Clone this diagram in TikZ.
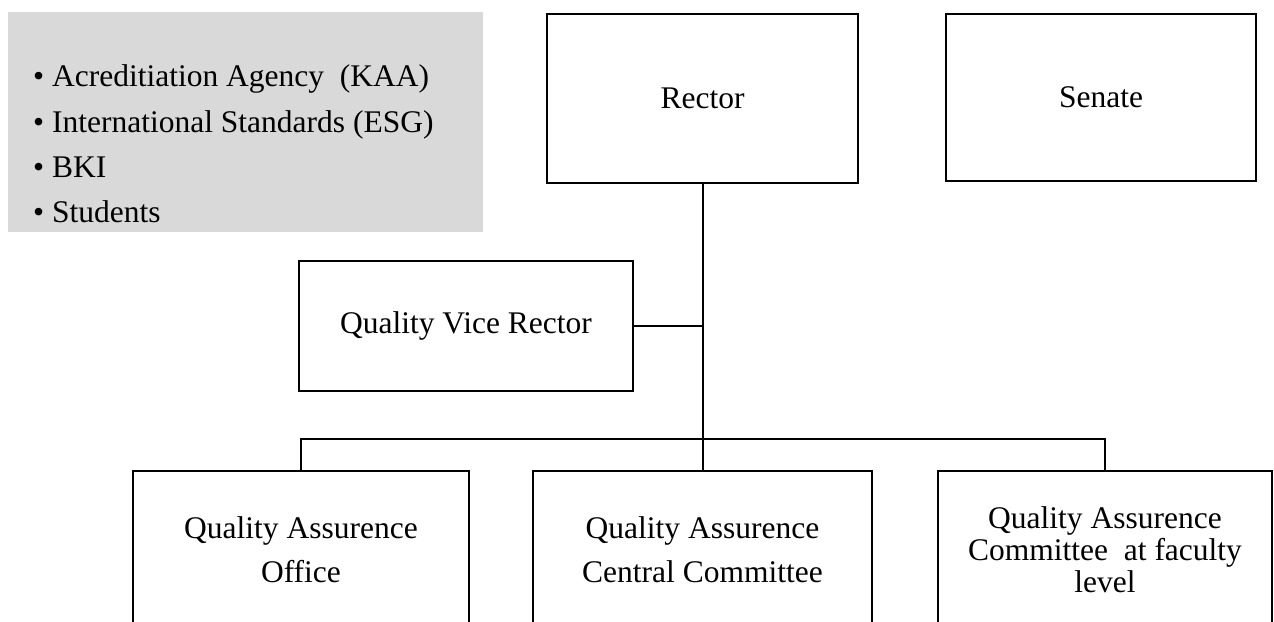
\documentclass[tikz,border=0pt]{standalone}
\usepackage{fontspec}
\setmainfont{Liberation Serif}
\definecolor{panel}{HTML}{D9D9D9}
\begin{document}
\begin{tikzpicture}[x=1pt,y=-1pt,
  box/.style={draw=black, line width=1.8pt, fill=white, align=center, inner sep=0pt, font=\fontsize{31.5}{44}\selectfont},
  tightbox/.style={box, font=\fontsize{31.5}{32}\selectfont},
  item/.style={anchor=base west, inner sep=0pt, font=\fontsize{31.5}{38}\selectfont},
  conn/.style={draw=black, line width=2pt}]
\clip (0,0) rectangle (1274,621);
\fill[white] (0,0) rectangle (1274,621);
% external panel
\node[fill=panel, minimum width=475pt, minimum height=220pt, anchor=north west, inner sep=0pt] (ext) at (8,12) {};
\node[item] (l1) at (33,86) {• Acreditiation Agency\ \ (KAA)};
\node[item] (l2) at (33,132) {• International Standards (ESG)};
\node[item] (l3) at (33,177) {• BKI};
\node[item] (l4) at (33,222) {• Students};
% boxes
\node[box, minimum width=311pt, minimum height=169pt] (rector) at (702.5,98.5) {Rector};
\node[box, minimum width=310pt, minimum height=167pt, line width=1.2pt] (senate) at (1101,97.5) {Senate};
\node[box, minimum width=334pt, minimum height=130pt] (qvr) at (466,326) {Quality Vice Rector};
\node[box, minimum width=336pt, minimum height=158pt] (b1) at (301,550) {Quality Assurence\\Office};
\node[box, minimum width=339pt, minimum height=158pt] (b2) at (702.5,550) {Quality Assurence\\Central Committee};
\node[tightbox, minimum width=334pt, minimum height=158pt] (b3) at (1105,550) {Quality Assurence\\Committee\ \ at faculty\\level};
% connectors
\coordinate (bus) at (rector.south |- 0,439);
\draw[conn] (rector.south) -- (bus);
\draw[conn] (qvr.east) -- (qvr.east -| rector.south);
\draw[conn] (b1.north) -- (b1.north |- bus) -- (b3.north |- bus) -- (b3.north);
\draw[conn] (bus) -- (b2.north);
\end{tikzpicture}
\end{document}
